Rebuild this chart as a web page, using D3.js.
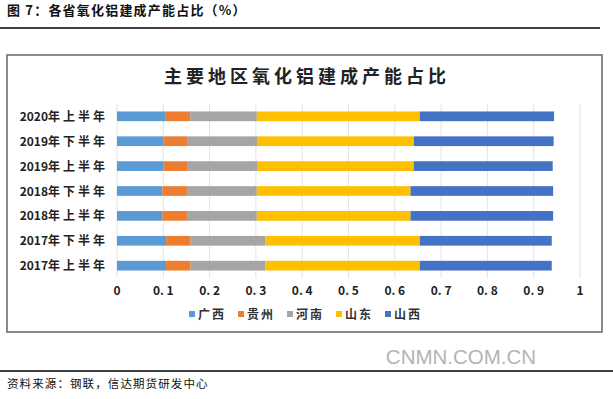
<!DOCTYPE html>
<html>
<head>
<meta charset="utf-8">
<script src="https://cdn.jsdelivr.net/npm/d3@7/dist/d3.min.js"></script>
<style>
  body { margin: 0; background: #fff; }
  svg { display: block; }
</style>
</head>
<body>
<svg id="chart" width="613" height="399"></svg>
<script>
// periods, top row first
const periods = ['2020年上半年', '2019年下半年', '2019年上半年', '2018年下半年', '2018年上半年', '2017年下半年', '2017年上半年']
const provinces = ['广西', '贵州', '河南', '山东', '山西']
const guangxi = [0.104, 0.100, 0.100, 0.098, 0.098, 0.106, 0.106]
const guizhou = [0.054, 0.053, 0.053, 0.053, 0.053, 0.053, 0.053]
const henan = [0.144, 0.151, 0.151, 0.151, 0.151, 0.161, 0.161]
const shandong = [0.352, 0.337, 0.337, 0.332, 0.332, 0.334, 0.334]
const shanxi = [0.290, 0.302, 0.300, 0.308, 0.308, 0.285, 0.285]
const ticks = [0, 0.1, 0.2, 0.3, 0.4, 0.5, 0.6, 0.7, 0.8, 0.9, 1]

const colors = ['#5B9BD5', '#ED7D31', '#A5A5A5', '#FFC000', '#4472C4']
const cjk = '"Noto Sans CJK SC", sans-serif'

var rows = periods.map((p, i) => ({
	period: p,
	'广西': guangxi[i], '贵州': guizhou[i], '河南': henan[i], '山东': shandong[i], '山西': shanxi[i]
}))
var stacked = d3.stack().keys(provinces)(rows)

var svg = d3.select('#chart')

// page header
svg.append('text').attr('x', 7).attr('y', 15)
	.attr('font-family', cjk).attr('font-weight', 700).attr('font-size', 13)
	.attr('letter-spacing', 1.2).attr('fill', '#111')
	.text('图 7：各省氧化铝建成产能占比（%）')
svg.append('line').attr('x1', 0).attr('x2', 600).attr('y1', 28).attr('y2', 28)
	.attr('stroke', '#000').attr('stroke-width', 1.5)

// chart frame
svg.append('rect').attr('x', 7).attr('y', 55).attr('width', 595).attr('height', 277)
	.attr('fill', '#fff').attr('stroke', '#6e6e6e').attr('stroke-width', 1.6)

svg.append('text').attr('x', 307).attr('y', 83).attr('text-anchor', 'middle')
	.attr('font-family', cjk).attr('font-weight', 700).attr('font-size', 18)
	.attr('letter-spacing', 4).attr('fill', '#222')
	.text('主要地区氧化铝建成产能占比')

var x = d3.scaleLinear().domain([0, 1]).range([117, 580])
var y = d3.scaleBand().domain(periods).range([104, 278]).paddingInner(0.61).paddingOuter(0.3)

// gridlines
svg.append('g').selectAll('line').data(ticks).join('line')
	.attr('x1', d => x(d)).attr('x2', d => x(d))
	.attr('y1', 104).attr('y2', 278)
	.attr('stroke', '#e3e3e3').attr('stroke-width', 1)

// bars
svg.append('g').selectAll('g').data(stacked).join('g')
	.attr('fill', (d, i) => colors[i])
	.selectAll('rect').data(d => d).join('rect')
	.attr('x', d => x(d[0]))
	.attr('width', d => x(d[1]) - x(d[0]))
	.attr('y', d => y(d.data.period))
	.attr('height', y.bandwidth())

// category labels: digits tight, CJK spaced out
var lab = svg.append('g').selectAll('text').data(periods).join('text')
	.attr('x', 105).attr('y', d => y(d) + y.bandwidth() / 2 + 4.5)
	.attr('text-anchor', 'end')
	.attr('font-family', cjk).attr('font-weight', 700).attr('font-size', 12)
	.attr('fill', '#222')
lab.append('tspan').attr('letter-spacing', 0).text(d => d.slice(0, 4))
lab.append('tspan').attr('letter-spacing', 3).text(d => d.slice(4, 7))
lab.append('tspan').text(d => d.slice(7))

// x tick labels
svg.append('g').selectAll('text').data(ticks).join('text')
	.attr('x', d => x(d)).attr('y', 295).attr('text-anchor', 'middle')
	.attr('font-family', cjk).attr('font-weight', 700).attr('font-size', 12)
	.attr('fill', '#222')
	.text(d => d === 0 || d === 1 ? String(d) : d3.format('.1f')(d).replace('.', '. '))

// legend
var legend = svg.append('g').selectAll('g').data(provinces).join('g')
	.attr('transform', (d, i) => `translate(${189 + i * 49},314)`)
legend.append('rect').attr('x', 0).attr('y', -3).attr('width', 6).attr('height', 6)
	.attr('fill', (d, i) => colors[i])
legend.append('text').attr('x', 9).attr('y', 4.5)
	.attr('font-family', cjk).attr('font-weight', 700).attr('font-size', 12)
	.attr('letter-spacing', 2).attr('fill', '#333')
	.text(d => d)

// watermark and source
svg.append('text').attr('x', 461).attr('y', 364).attr('text-anchor', 'middle')
	.attr('font-family', 'Arial, "Liberation Sans", sans-serif').attr('font-size', 20.5)
	.attr('fill', '#b4b4b4').text('CNMN.COM.CN')
svg.append('line').attr('x1', 0).attr('x2', 613).attr('y1', 371).attr('y2', 371)
	.attr('stroke', '#000').attr('stroke-width', 1.3)
svg.append('text').attr('x', 7).attr('y', 388)
	.attr('font-family', cjk).attr('font-size', 11.5).attr('letter-spacing', 1.1)
	.attr('fill', '#111')
	.text('资料来源：钢联，信达期货研发中心')
</script>
</body>
</html>
